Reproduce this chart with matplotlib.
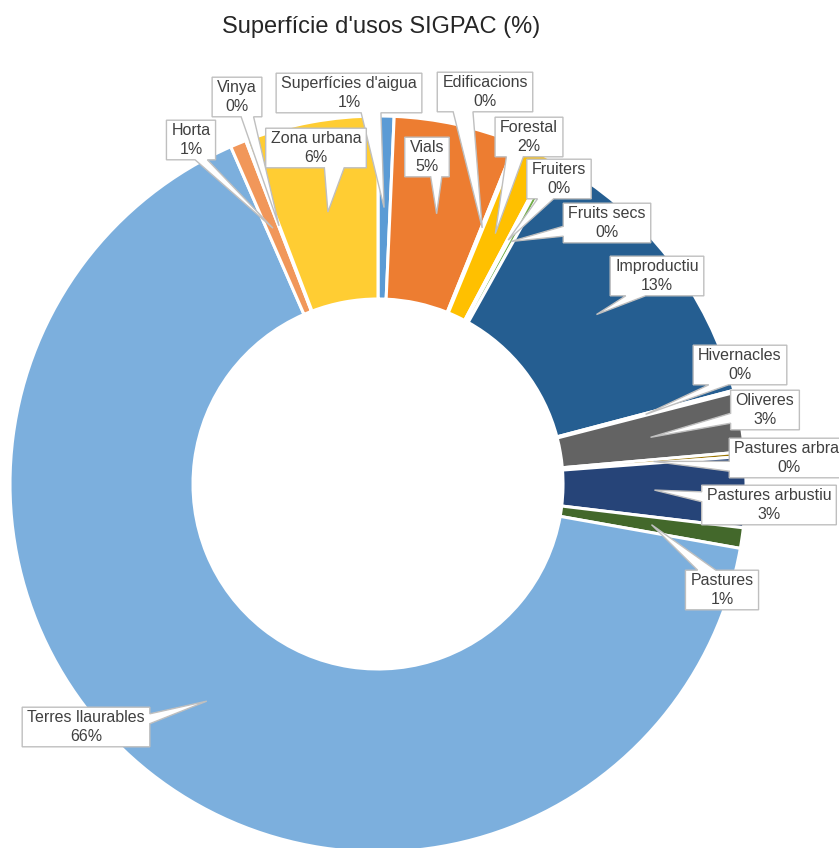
import matplotlib
matplotlib.use('Agg')
import matplotlib.pyplot as plt
from matplotlib.patches import Polygon
import numpy as np

W, H = 839, 848

# SIGPAC land use shares (%), clockwise from 12 o'clock
usos = ["Superfícies d'aigua", 'Vials', 'Edificacions', 'Forestal', 'Fruiters',
        'Fruits secs', 'Improductiu', 'Hivernacles', 'Oliveres', 'Pastures arbrat',
        'Pastures arbustiu', 'Pastures', 'Terres llaurables', 'Horta', 'Vinya',
        'Zona urbana']
superficie = [0.7, 5.4, 0.1, 1.55, 0.1,
              0.25, 12.8, 0.1, 2.6, 0.2,
              3.1, 0.9, 65.65, 0.7, 0.05,
              5.8]
colors = ['#5B9BD5', '#ED7D31', '#A5A5A5', '#FFC000', '#4472C4',
          '#70AD47', '#255E91', '#9E480E', '#636363', '#997300',
          '#264478', '#43682B', '#7CAFDD', '#F1975A', '#B7B7B7',
          '#FFCD33']

# callout box centres (pixels from top-left)
label_xy = [(349, 93), (427, 157), (485, 92), (529, 137), (559, 179),
            (607, 223), (657, 276), (740, 365), (765, 410), (789, 458),
            (769, 505), (722, 590), (86, 727), (191, 140), (237, 97),
            (316, 148)]

plt.rcParams['font.family'] = ['Liberation Sans', 'DejaVu Sans']

fig = plt.figure(figsize=(W / 100, H / 100), dpi=100)
ax = fig.add_axes([0, 0, 1, 1])

centre = (378, 484)
r_out = 368
ring = 183

# y axis is flipped below, so counterclock in data = clockwise on screen
wedges, _ = ax.pie(superficie, colors=colors, startangle=270, counterclock=True,
                   radius=r_out, center=centre,
                   wedgeprops=dict(width=ring, edgecolor='white', linewidth=2.2))

ax.set_xlim(0, W)
ax.set_ylim(H, 0)
ax.set_aspect('auto')
ax.axis('off')

ax.text(381, 27, "Superfície d'usos SIGPAC (%)", ha='center', va='center',
        fontsize=17, color='#262626')

fig.canvas.draw()
renderer = fig.canvas.get_renderer()
inv = ax.transData.inverted()
total = sum(superficie)


def callout(cx, cy, text, tip):
    t = ax.text(cx, cy, text, ha='center', va='center', fontsize=11.5,
                color='#404040', zorder=6, linespacing=1.3)
    bb = t.get_window_extent(renderer)
    (ax0, ay0), (ax1, ay1) = inv.transform([[bb.x0, bb.y0], [bb.x1, bb.y1]])
    x0, x1 = min(ax0, ax1) - 5, max(ax0, ax1) + 5
    y0, y1 = min(ay0, ay1) - 3, max(ay0, ay1) + 3
    w = x1 - x0
    h = y1 - y0
    bx, by = (x0 + x1) / 2, (y0 + y1) / 2
    tx, ty = tip
    ndx = (tx - bx) / (w / 2)
    ndy = (ty - by) / (h / 2)
    if abs(ndx) > abs(ndy):
        if ty > by:
            a, b = y0 + h * 7 / 12, y0 + h * 10 / 12
        else:
            a, b = y0 + h * 2 / 12, y0 + h * 5 / 12
        if tx > bx:
            pts = [(x0, y0), (x1, y0), (x1, a), (tx, ty), (x1, b), (x1, y1), (x0, y1)]
        else:
            pts = [(x0, y0), (x1, y0), (x1, y1), (x0, y1), (x0, b), (tx, ty), (x0, a)]
    else:
        base = min(w / 4, h / 2)
        if tx > bx:
            a = x0 + w * 7 / 12
        else:
            a = x0 + w * 2 / 12
        b = a + base
        if ty > by:
            pts = [(x0, y0), (x1, y0), (x1, y1), (b, y1), (tx, ty), (a, y1), (x0, y1)]
        else:
            pts = [(x0, y0), (a, y0), (tx, ty), (b, y0), (x1, y0), (x1, y1), (x0, y1)]
    ax.add_patch(Polygon(pts, closed=True, facecolor='white', edgecolor='#BFBFBF',
                         linewidth=1, zorder=5))


for wdg, nom, val, (lx, ly) in zip(wedges, usos, superficie, label_xy):
    mid = np.deg2rad((wdg.theta1 + wdg.theta2) / 2)
    rm = wdg.r - wdg.width / 2
    tip = (centre[0] + rm * np.cos(mid), centre[1] + rm * np.sin(mid))
    callout(lx, ly, f'{nom}\n{val / total * 100:.0f}%', tip)

fig.savefig('out.png', dpi=100)
